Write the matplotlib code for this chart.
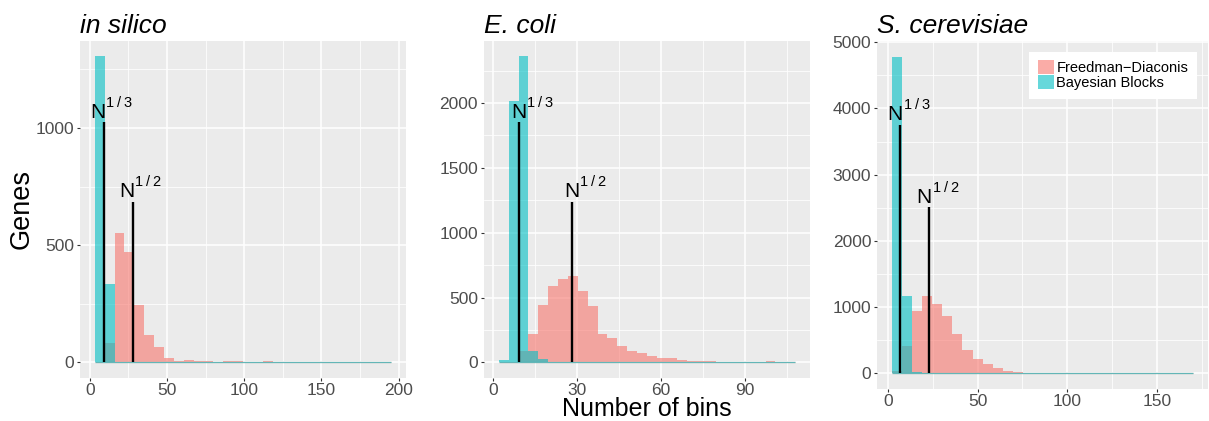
import numpy as np
import matplotlib
matplotlib.use("Agg")
import matplotlib.pyplot as plt
from matplotlib.ticker import MultipleLocator, AutoMinorLocator
from matplotlib.patches import Patch

plt.rcParams['font.family'] = ['Liberation Sans', 'DejaVu Sans']

# --- data ---
titles = ['in silico', 'E. coli', 'S. cerevisiae']
methods = ['Freedman\u2212Diaconis', 'Bayesian Blocks']

# histogram bins (30 per panel): first edge and width
bin_start = [3.25, 2.1, 2.54]
bin_width = [6.4, 3.53, 5.58]

fd_silico = [0, 82, 550, 470, 244, 116, 65, 18, 6, 10, 6, 6, 0, 6, 6,
             0, 0, 6, 0, 0, 0, 0, 0, 0, 0, 0, 0, 0, 0, 0]
bb_silico = [1308, 333, 0, 0, 0, 0, 0, 0, 0, 0, 0, 0, 0, 0, 0,
             0, 0, 0, 0, 0, 0, 0, 0, 0, 0, 0, 0, 0, 0, 0]

fd_ecoli = [0, 0, 85, 220, 441, 587, 641, 664, 549, 433, 220, 187, 123, 87, 72,
            49, 33, 33, 18, 13, 10, 10, 2, 0, 0, 0, 0, 10, 0, 0]
bb_ecoli = [18, 2018, 2364, 85, 25, 0, 0, 0, 0, 0, 0, 0, 0, 0, 0,
            0, 0, 0, 0, 0, 0, 0, 0, 0, 0, 0, 0, 0, 0, 0]

fd_yeast = [35, 417, 944, 1170, 1049, 868, 597, 356, 218, 146, 82, 38, 22, 5, 3,
            0, 0, 0, 0, 0, 0, 0, 0, 0, 0, 0, 0, 0, 0, 0]
bb_yeast = [4784, 1160, 25, 0, 0, 0, 0, 0, 0, 0, 0, 0, 0, 0, 0,
            0, 0, 0, 0, 0, 0, 0, 0, 0, 0, 0, 0, 0, 0, 0]

fd_counts = [fd_silico, fd_ecoli, fd_yeast]
bb_counts = [bb_silico, bb_ecoli, bb_yeast]

# reference lines N^(1/3) and N^(1/2): x position and height
cube_x = [8.9, 9.36, 6.7]
cube_h = [1024, 1851, 3755]
sqrt_x = [27.9, 28.2, 22.9]
sqrt_h = [685, 1238, 2505]
line_labels = ['1\u2009/\u20093', '1\u2009/\u20092']

x_step = [50, 30, 50]
y_step = [500, 500, 1000]

# --- layout (pixels) ---
W, H = 1209, 421
boxes = [(80, 40.5, 406, 377.7), (484, 40.5, 810, 377.7), (877.3, 40.7, 1208, 389)]
label_dx = [-9.8, -5.7, -8.9]

red = '#F8766D'
cyan = '#00BFC4'
alpha = 0.6

fig = plt.figure(figsize=(W / 100, H / 100), dpi=100)

axes = []
for i in range(3):
    l, t, r, b = boxes[i]
    ax = fig.add_axes([l / W, 1 - b / H, (r - l) / W, (b - t) / H])
    axes.append(ax)
    ax.set_facecolor('#EBEBEB')
    for s in ax.spines.values():
        s.set_visible(False)

    edges = bin_start[i] + bin_width[i] * np.arange(31)
    for counts, col in [(fd_counts[i], red), (bb_counts[i], cyan)]:
        ax.bar(edges[:-1], counts, width=bin_width[i], align='edge',
               color=col, alpha=alpha, linewidth=0, zorder=2)
        ax.plot([edges[0], edges[-1]], [0, 0], color=col, alpha=alpha,
                lw=0.9, zorder=2, solid_capstyle='butt')

    ax.vlines([cube_x[i], sqrt_x[i]], 0, [cube_h[i], sqrt_h[i]],
              color='black', lw=1.7, zorder=3)
    for xx, hh, sup in [(cube_x[i], cube_h[i], line_labels[0]),
                        (sqrt_x[i], sqrt_h[i], line_labels[1])]:
        ax.annotate('N', xy=(xx, hh), xytext=(label_dx[i], 3.4),
                    textcoords='offset points', ha='left', va='baseline',
                    fontsize=15, zorder=4)
        ax.annotate(sup, xy=(xx, hh), xytext=(label_dx[i] + 11.6, 11.1),
                    textcoords='offset points', ha='left', va='baseline',
                    fontsize=10.5, zorder=4)

    top = max(max(fd_counts[i]), max(bb_counts[i]))
    span = edges[-1] - edges[0]
    ax.set_xlim(edges[0] - 0.05 * span, edges[-1] + 0.05 * span)
    ax.set_ylim(-0.05 * top, 1.05 * top)

    ax.xaxis.set_major_locator(MultipleLocator(x_step[i]))
    ax.yaxis.set_major_locator(MultipleLocator(y_step[i]))
    ax.xaxis.set_minor_locator(AutoMinorLocator(2))
    ax.yaxis.set_minor_locator(AutoMinorLocator(2))
    ax.grid(which='major', color='white', lw=1.1, zorder=0)
    ax.grid(which='minor', color='white', lw=0.55, zorder=0)
    ax.set_axisbelow(True)
    ax.tick_params(which='major', length=2.4, width=0.8, color='#333333',
                   labelsize=12.5, labelcolor='#4D4D4D', pad=2)
    ax.tick_params(axis='x', which='major', pad=1.3)
    ax.tick_params(which='minor', length=0)

    fig.text(l / W, 1 - 33.3 / H, titles[i], style='italic', fontsize=19,
             ha='left', va='baseline')

fig.text(22 / W, 1 - 209 / H, 'Genes', rotation=90, fontsize=19.5,
         ha='center', va='center')
fig.text(647 / W, 1 - 415.5 / H, 'Number of bins', fontsize=18,
         ha='center', va='baseline')

handles = [Patch(facecolor=red, alpha=alpha, lw=0),
           Patch(facecolor=cyan, alpha=alpha, lw=0)]
leg = axes[2].legend(handles, methods, loc='upper right', fontsize=10.5,
                     frameon=True, fancybox=False, facecolor='white',
                     edgecolor='none', framealpha=1, handlelength=1.07,
                     handleheight=1.07, handletextpad=0.2, labelspacing=0,
                     borderpad=0.6, borderaxespad=0.75)

fig.savefig('out.png', dpi=100)
